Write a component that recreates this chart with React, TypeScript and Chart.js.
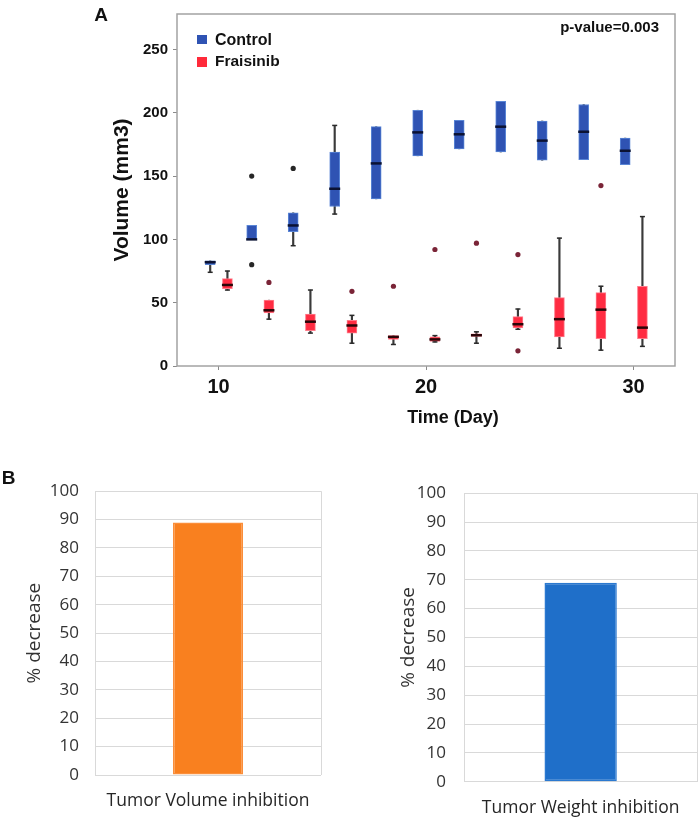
import React, { useEffect, useRef } from "react";
import { Chart, registerables } from "chart.js";

Chart.register(...registerables);

// ---------- Panel A data (tumour volume, mm3) ----------
const days = [10, 12, 14, 16, 18, 20, 22, 24, 26, 28, 30];

const controlMin = [74, 100, 95, 120, 132, 166, 171.5, 169, 162.5, 163, 159];
const controlQ1 = [80, 100, 106, 126, 132, 166, 171.5, 169, 162.5, 163, 159];
const controlMedian = [82, 100, 111, 140, 160, 184.5, 183, 189, 178, 185, 170];
const controlQ3 = [83, 111, 121, 169, 189, 202, 194, 209, 193.5, 206.5, 180];
const controlMax = [83, 111, 121, 190, 189, 202, 194, 209, 193.5, 206.5, 180];
const controlOutlierDays = [12, 12, 14];
const controlOutlierValues = [150, 80, 156];

const fraisinibMin = [60, 37, 26, 18, 17, 19, 18, 29, 14, 12.5, 15.5];
const fraisinibQ1 = [61, 42, 28, 26, 21, 19.5, 23.3, 30, 23, 21.5, 21.5];
const fraisinibMedian = [64, 44, 35, 32, 23, 21, 24.3, 33, 37, 44.5, 30.3];
const fraisinibQ3 = [69, 52, 41, 36, 24, 23, 25.4, 39, 54, 58, 63];
const fraisinibMax = [75, 52, 60, 40, 24, 24, 27, 45, 101, 63, 118];
const fraisinibOutlierDays = [12, 16, 18, 20, 22, 24, 24, 28];
const fraisinibOutlierValues = [66, 59, 63, 92, 97, 88, 12, 142.5];

const volumeTicks = [0, 50, 100, 150, 200, 250];
const dayTicks = [10, 20, 30];

// ---------- Panel B data (% decrease) ----------
const volumeLabels = ["Tumor Volume inhibition"];
const volumeInhibition = [89];
const weightLabels = ["Tumor Weight inhibition"];
const weightInhibition = [69];
const percentTicks = [0, 10, 20, 30, 40, 50, 60, 70, 80, 90, 100];

// ---------- styling ----------
const SANS = "'Liberation Sans', Arial, Helvetica, sans-serif";
const OPEN = "'Open Sans', 'Noto Sans', sans-serif";
const CONTROL_SHIFT = -0.4;
const FRAIS_SHIFT = 0.43;

const framePlugin = {
  id: "frame",
  beforeDatasetsDraw(chart: any, _args: any, opts: any) {
    const { ctx, chartArea } = chart;
    const { left, top, right, bottom } = chartArea;
    ctx.save();
    ctx.strokeStyle = opts.color || "#a0a0a0";
    ctx.lineWidth = opts.width || 1.5;
    ctx.strokeRect(left, top, right - left, bottom - top);
    ctx.restore();
  },
};

function boxGroup(
  shift: number,
  mins: number[],
  q1s: number[],
  meds: number[],
  q3s: number[],
  maxs: number[],
  outDays: number[],
  outVals: number[],
  c: { fill: string; edge: string; median: string; outlier: string }
) {
  const xs = days.map((d) => d + shift);
  const caps: { x: number; y: number }[] = [];
  xs.forEach((x, i) => {
    if (mins[i] < q1s[i]) caps.push({ x, y: mins[i] });
    if (maxs[i] > q3s[i]) caps.push({ x, y: maxs[i] });
  });
  return [
    {
      type: "scatter",
      data: outDays.map((d, i) => ({ x: d + shift, y: outVals[i] })),
      pointRadius: 2.6,
      pointBackgroundColor: c.outlier,
      pointBorderWidth: 0,
      order: 0,
    },
    {
      type: "scatter",
      data: xs.map((x, i) => ({ x, y: meds[i] })),
      pointStyle: "line",
      pointRadius: 5.5,
      pointBorderColor: c.median,
      borderColor: c.median,
      pointBorderWidth: 2.5,
      order: 1,
    },
    {
      type: "scatter",
      data: caps,
      pointStyle: "line",
      pointRadius: 2.5,
      pointBorderColor: "#2a2a2a",
      borderColor: "#2a2a2a",
      pointBorderWidth: 1.5,
      order: 2,
    },
    {
      type: "bar",
      data: xs.map((x, i) => ({ x, y: [q1s[i], q3s[i]] })),
      barThickness: 10,
      backgroundColor: c.fill,
      borderColor: c.edge,
      borderWidth: 1,
      borderSkipped: false,
      grouped: false,
      order: 3,
    },
    {
      type: "bar",
      data: xs.map((x, i) => ({ x, y: [mins[i], maxs[i]] })),
      barThickness: 1.5,
      backgroundColor: "#3a3a3a",
      borderWidth: 0,
      grouped: false,
      order: 4,
    },
  ];
}

function percentChart(
  canvas: HTMLCanvasElement,
  labels: string[],
  values: number[],
  fill: string,
  edge: string,
  L: {
    padLeft: number;
    padTop: number;
    padRight: number;
    yWidth: number;
    yPad: number;
    titlePad: number;
    xHeight: number;
    xPad: number;
  }
) {
  return new Chart(canvas, {
    type: "bar",
    data: {
      labels,
      datasets: [
        {
          data: values,
          backgroundColor: fill,
          borderColor: edge,
          borderWidth: 1.5,
          borderSkipped: false,
          barPercentage: 0.31,
          categoryPercentage: 1,
        },
      ],
    },
    options: {
      animation: false,
      responsive: true,
      maintainAspectRatio: false,
      events: [],
      layout: { padding: { left: L.padLeft, top: L.padTop, right: L.padRight, bottom: 0 } },
      plugins: { legend: { display: false }, tooltip: { enabled: false } },
      scales: {
        x: {
          type: "category",
          afterFit: (s: any) => {
            s.height = L.xHeight;
          },
          grid: { display: true, color: "#d9d9d9", lineWidth: 1, drawTicks: false, offset: true },
          border: { display: false },
          ticks: { padding: L.xPad, color: "#262626", font: { family: OPEN, size: 17.5 }, maxRotation: 0 },
        },
        y: {
          type: "linear",
          min: 0,
          max: 100,
          afterBuildTicks: (ax: any) => {
            ax.ticks = percentTicks.map((v) => ({ value: v }));
          },
          afterFit: (s: any) => {
            s.width = L.yWidth;
          },
          grid: { color: "#d9d9d9", lineWidth: 1, drawTicks: false },
          border: { display: false },
          ticks: { padding: L.yPad, color: "#333333", font: { family: OPEN, size: 17 } },
          title: {
            display: true,
            text: "% decrease",
            color: "#333333",
            font: { family: OPEN, size: 19 },
            padding: { top: L.titlePad, bottom: 0 },
          },
        },
      },
    } as any,
  });
}

const T = (props: {
  x: number;
  y: number;
  anchor?: "start" | "middle" | "end";
  size: number;
  bold?: boolean;
  family?: string;
  color?: string;
  children: React.ReactNode;
}) => {
  const tx = props.anchor === "start" ? "0" : props.anchor === "end" ? "-100%" : "-50%";
  return (
    <div
      style={{
        position: "absolute",
        left: props.x,
        top: props.y,
        transform: `translate(${tx}, -50%)`,
        fontFamily: props.family || SANS,
        fontSize: props.size,
        fontWeight: props.bold ? "bold" : "normal",
        color: props.color || "#111",
        lineHeight: 1,
        whiteSpace: "nowrap",
      }}
    >
      {props.children}
    </div>
  );
};

export default function App() {
  const aRef = useRef<HTMLCanvasElement>(null);
  const b1Ref = useRef<HTMLCanvasElement>(null);
  const b2Ref = useRef<HTMLCanvasElement>(null);

  useEffect(() => {
    const charts: Chart[] = [];
    if (aRef.current) {
      const datasets = [
        ...boxGroup(
          CONTROL_SHIFT,
          controlMin,
          controlQ1,
          controlMedian,
          controlQ3,
          controlMax,
          controlOutlierDays,
          controlOutlierValues,
          { fill: "#2f53b3", edge: "#5a86d6", median: "#0b1233", outlier: "#262626" }
        ),
        ...boxGroup(
          FRAIS_SHIFT,
          fraisinibMin,
          fraisinibQ1,
          fraisinibMedian,
          fraisinibQ3,
          fraisinibMax,
          fraisinibOutlierDays,
          fraisinibOutlierValues,
          { fill: "#ff2c42", edge: "#ff7b8a", median: "#2a0508", outlier: "#7a2437" }
        ),
      ];
      charts.push(
        new Chart(aRef.current, {
          type: "bar",
          data: { datasets: datasets as any },
          options: {
            animation: false,
            responsive: true,
            maintainAspectRatio: false,
            events: [],
            layout: { padding: { left: 100, right: 24, top: 7, bottom: 0 } },
            plugins: {
              legend: { display: false },
              tooltip: { enabled: false },
              frame: { color: "#a3a3a3", width: 1.5 },
            },
            scales: {
              x: {
                type: "linear",
                min: 8,
                max: 32,
                offset: false,
                afterBuildTicks: (ax: any) => {
                  ax.ticks = dayTicks.map((v) => ({ value: v }));
                },
                afterFit: (s: any) => {
                  s.height = 94;
                },
                grid: { drawOnChartArea: false, drawTicks: true, tickLength: 4, color: "#8a8a8a", offset: false },
                border: { display: false },
                ticks: { padding: 5, color: "#111", font: { family: SANS, size: 20, weight: "bold" }, maxRotation: 0 },
              },
              y: {
                type: "linear",
                min: 0,
                max: 278,
                afterBuildTicks: (ax: any) => {
                  ax.ticks = volumeTicks.map((v) => ({ value: v }));
                },
                afterFit: (s: any) => {
                  s.width = 77;
                },
                grid: { drawOnChartArea: false, drawTicks: true, tickLength: 4, color: "#8a8a8a" },
                border: { display: false },
                ticks: { padding: 5, color: "#111", font: { family: SANS, size: 15, weight: "bold" } },
                title: {
                  display: true,
                  text: "Volume (mm3)",
                  color: "#111",
                  font: { family: SANS, size: 21, weight: "bold" },
                  padding: { top: 10, bottom: 0 },
                },
              },
            },
          } as any,
          plugins: [framePlugin],
        })
      );
    }
    if (b1Ref.current) {
      charts.push(
        percentChart(b1Ref.current, volumeLabels, volumeInhibition, "#f9801f", "#fb8e3a", {
          padLeft: 14,
          padTop: 26,
          padRight: 29,
          yWidth: 81,
          yPad: 16,
          titlePad: 9.6,
          xHeight: 46,
          xPad: 16,
        })
      );
    }
    if (b2Ref.current) {
      charts.push(
        percentChart(b2Ref.current, weightLabels, weightInhibition, "#1f6fc9", "#2b79d0", {
          padLeft: 40,
          padTop: 26.7,
          padRight: 1.7,
          yWidth: 75,
          yPad: 18,
          titlePad: 8.6,
          xHeight: 39.3,
          xPad: 16,
        })
      );
    }
    return () => charts.forEach((c) => c.destroy());
  }, []);

  return (
    <div
      style={{
        position: "absolute",
        left: 0,
        top: 0,
        width: 699,
        height: 821,
        background: "#fff",
        overflow: "hidden",
      }}
    >
      <div style={{ position: "absolute", left: 0, top: 0, width: 699, height: 460 }}>
        <canvas ref={aRef} />
      </div>
      <div style={{ position: "absolute", left: 0, top: 465, width: 350, height: 356 }}>
        <canvas ref={b1Ref} />
      </div>
      <div style={{ position: "absolute", left: 349, top: 465, width: 350, height: 356 }}>
        <canvas ref={b2Ref} />
      </div>

      <T x={101} y={14} size={19} bold>
        A
      </T>
      <T x={659} y={26} size={15} bold anchor="end">
        p-value=0.003
      </T>
      <div style={{ position: "absolute", left: 197, top: 35, width: 10, height: 9, background: "#2f53b3" }} />
      <div style={{ position: "absolute", left: 197, top: 57, width: 10, height: 10, background: "#ff2a3a" }} />
      <T x={215} y={40} size={16} bold anchor="start">
        Control
      </T>
      <T x={215} y={61} size={15.5} bold anchor="start">
        Fraisinib
      </T>
      <T x={453} y={417} size={18} bold>
        Time (Day)
      </T>
      <T x={8.5} y={477} size={19} bold>
        B
      </T>
    </div>
  );
}
